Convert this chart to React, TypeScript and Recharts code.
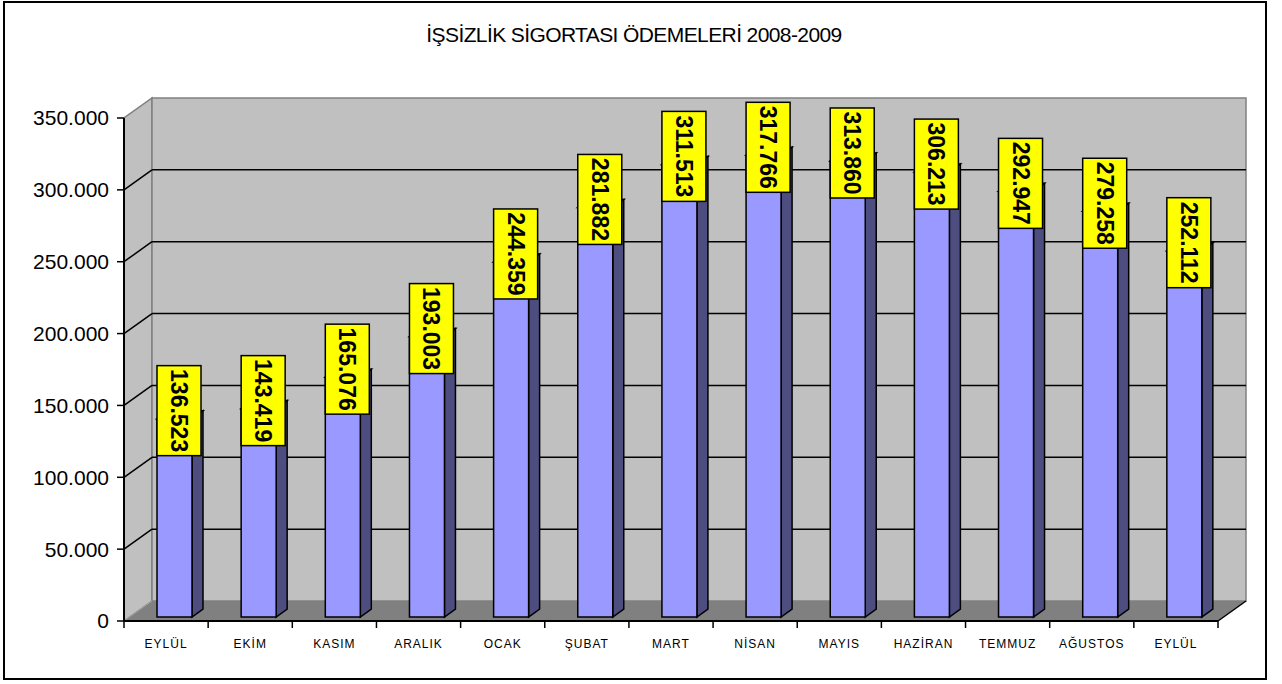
import React from "react";
import { BarChart, Bar, XAxis, YAxis, ReferenceArea, LabelList } from "recharts";

const months = ["EYLÜL", "EKİM", "KASIM", "ARALIK", "OCAK", "ŞUBAT", "MART", "NİSAN", "MAYIS", "HAZİRAN", "TEMMUZ", "AĞUSTOS", "EYLÜL"];
const payments = [136523, 143419, 165076, 193003, 244359, 281882, 311513, 317766, 313860, 306213, 292947, 279258, 252112];
const yTicks = [0, 50000, 100000, 150000, 200000, 250000, 300000, 350000];
const Y_MAX = 350000;

const data = months.map((m, i) => ({ month: m, value: payments[i] }));

const FONT = '"Liberation Sans", Arial, sans-serif';
// 3D projection offsets
const WALL_DX = 28;
const WALL_DY = -20;
const BAR_DX = 8;
const BAR_DY = -4;
const DEPTH_DX = 11;
const DEPTH_DY = -8;
const BAR_PERSP = 1.011; // bars sit a bit nearer than the axis plane

const fmt = (v: number) => String(v).replace(/\B(?=(\d{3})+(?!\d))/g, ".");

// front-face top of a bar after the projection tweak
const barTop = (y: number, height: number) => y + height - height * BAR_PERSP + BAR_DY;

function Walls(props: any) {
  const { x, y, width, height } = props;
  const bottom = y + height;
  const ty = (t: number) => bottom - (height * t) / Y_MAX;
  return (
    <g>
      <polygon
        points={`${x},${bottom} ${x},${y} ${x + WALL_DX},${y + WALL_DY} ${x + WALL_DX},${bottom + WALL_DY}`}
        fill="#c0c0c0"
        stroke="#808080"
        strokeWidth={1.5}
      />
      <rect x={x + WALL_DX} y={y + WALL_DY} width={width} height={height} fill="#c0c0c0" stroke="#808080" strokeWidth={1.5} />
      <polygon
        points={`${x},${bottom} ${x + width},${bottom} ${x + width + WALL_DX},${bottom + WALL_DY} ${x + WALL_DX},${bottom + WALL_DY}`}
        fill="#808080"
      />
      <line x1={x} y1={bottom} x2={x + WALL_DX} y2={bottom + WALL_DY} stroke="#a0a0a0" strokeWidth={1} />
      <line x1={x + width} y1={bottom} x2={x + width + WALL_DX} y2={bottom + WALL_DY} stroke="#000" strokeWidth={1.5} />
      {yTicks
        .filter((t) => t > 0 && t < Y_MAX)
        .map((t) => (
          <g key={t}>
            <line x1={x} y1={ty(t)} x2={x + WALL_DX} y2={ty(t) + WALL_DY} stroke="#000" strokeWidth={1.5} />
            <line x1={x + WALL_DX} y1={ty(t) + WALL_DY} x2={x + width + WALL_DX} y2={ty(t) + WALL_DY} stroke="#000" strokeWidth={1.5} />
          </g>
        ))}
    </g>
  );
}

function Bar3D(props: any) {
  const { x, y, width, height } = props;
  if (height <= 0) return null;
  const fx = x + BAR_DX;
  const fy = barTop(y, height);
  const fb = y + height + BAR_DY;
  const h = fb - fy;
  return (
    <g>
      <polygon
        points={`${fx},${fy} ${fx + DEPTH_DX},${fy + DEPTH_DY} ${fx + width + DEPTH_DX},${fy + DEPTH_DY} ${fx + width},${fy}`}
        fill="#7a7acc"
        stroke="#000"
        strokeWidth={1.5}
      />
      <polygon
        points={`${fx + width},${fy} ${fx + width + DEPTH_DX},${fy + DEPTH_DY} ${fx + width + DEPTH_DX},${fb + DEPTH_DY} ${fx + width},${fb}`}
        fill="#4d4d80"
        stroke="#000"
        strokeWidth={1.5}
      />
      <rect x={fx} y={fy} width={width} height={h} fill="#9999ff" stroke="#000" strokeWidth={1.5} />
    </g>
  );
}

function ValueLabel(props: any) {
  const { x, y, width, height, value } = props;
  const cx = x + width / 2 + 12.5;
  const cy = barTop(y, height) + DEPTH_DY;
  return (
    <g>
      <rect x={cx - 22} y={cy - 45} width={44} height={90} fill="#ffff00" stroke="#000" strokeWidth={1.5} />
      <text
        x={cx}
        y={cy}
        transform={`rotate(90, ${cx}, ${cy})`}
        textAnchor="middle"
        dominantBaseline="central"
        fontFamily={FONT}
        fontWeight="bold"
        fontSize={23}
        fill="#000"
      >
        {fmt(value)}
      </text>
    </g>
  );
}

function MonthTick(props: any) {
  const { x, y, payload, index } = props;
  const band = 1094 / months.length;
  return (
    <g>
      <line x1={x - band / 2} y1={y - 7} x2={x - band / 2} y2={y} stroke="#000" strokeWidth={1.5} />
      {index === months.length - 1 && (
        <line x1={x + band / 2} y1={y - 7} x2={x + band / 2} y2={y} stroke="#000" strokeWidth={1.5} />
      )}
      <text x={x} y={y + 16} textAnchor="middle" dominantBaseline="central" fontFamily={FONT} fontSize={12} letterSpacing={1} fill="#000">
        {payload.value}
      </text>
    </g>
  );
}

export default function App() {
  return (
    <div style={{ position: "absolute", left: 0, top: 0, width: 1282, height: 684, background: "#fff" }}>
      <div
        style={{
          position: "absolute",
          left: 3,
          top: 1,
          width: 1264,
          height: 679,
          border: "2px solid #000",
          boxSizing: "border-box",
        }}
      />
      <div
        style={{
          position: "absolute",
          left: 0,
          top: 23,
          width: 1268,
          textAlign: "center",
          fontFamily: FONT,
          fontSize: 21,
          letterSpacing: -0.6,
          color: "#000",
        }}
      >
        İŞSİZLİK SİGORTASI ÖDEMELERİ 2008-2009
      </div>
      <div style={{ position: "absolute", left: 0, top: 0 }}>
        <BarChart width={1282} height={684} data={data} margin={{ top: 118, right: 64, bottom: 23, left: 14 }} barSize={35}>
          <ReferenceArea y1={0} y2={Y_MAX} shape={(p: any) => <Walls {...p} />} ifOverflow="visible" />
          <YAxis
            width={110}
            domain={[0, Y_MAX]}
            ticks={yTicks}
            tickFormatter={fmt}
            axisLine={{ stroke: "#000", strokeWidth: 2 }}
            tickLine={{ stroke: "#000", strokeWidth: 1.5 }}
            tickSize={7}
            tickMargin={8}
            tick={{ fontSize: 21, fill: "#000", fontFamily: FONT }}
          />
          <XAxis
            dataKey="month"
            height={40}
            axisLine={{ stroke: "#000", strokeWidth: 2 }}
            tickLine={false}
            tickSize={7}
            tickMargin={0}
            interval={0}
            tick={<MonthTick />}
          />
          <Bar dataKey="value" isAnimationActive={false} shape={<Bar3D />}>
            <LabelList dataKey="value" content={<ValueLabel />} />
          </Bar>
        </BarChart>
      </div>
    </div>
  );
}
